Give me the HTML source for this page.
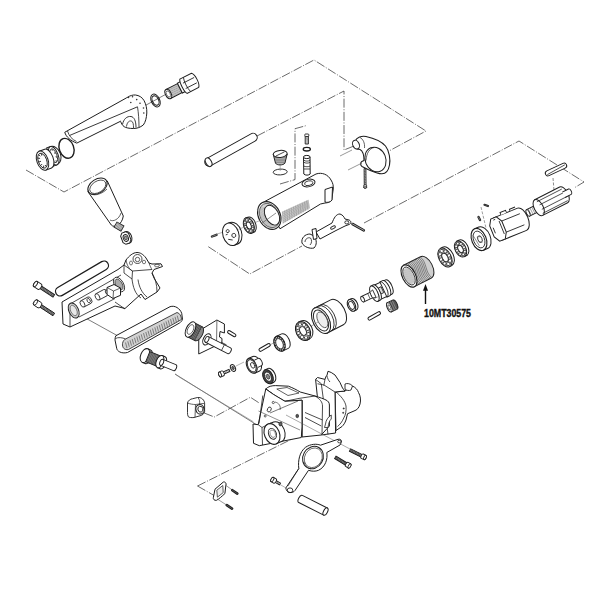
<!DOCTYPE html>
<html><head><meta charset="utf-8"><style>
html,body{margin:0;padding:0;background:#fff;width:600px;height:600px;overflow:hidden}
svg{display:block}
</style></head><body><svg width="600" height="600" viewBox="0 0 600 600"><path d="M26,170 L64,192 L314,60 L426,131 L389,151" fill="none" stroke="#3a3a3a" stroke-width="0.75" stroke-dasharray="9 1.6 1 1.6"/><path d="M257,136 L344,91 L344,150 L354,146" fill="none" stroke="#3a3a3a" stroke-width="0.75" stroke-dasharray="9 1.6 1 1.6"/><path d="M280,184 L295,179.6 L295,128.7 L307,125.4" fill="none" stroke="#3a3a3a" stroke-width="0.75" stroke-dasharray="9 1.6 1 1.6"/><path d="M208.3,246.7 L249.75,274 L302,246" fill="none" stroke="#3a3a3a" stroke-width="0.75" stroke-dasharray="9 1.6 1 1.6"/><path d="M364,223 L519,141 L584,182 L574,188" fill="none" stroke="#3a3a3a" stroke-width="0.75" stroke-dasharray="9 1.6 1 1.6"/><path d="M197.5,486 L300,435" fill="none" stroke="#3a3a3a" stroke-width="0.75" stroke-dasharray="9 1.6 1 1.6"/><path d="M197.5,486 L215,496" fill="none" stroke="#3a3a3a" stroke-width="0.75" stroke-dasharray="9 1.6 1 1.6"/><path d="M204.3,413 L214.25,417 L250.4,397.25 L259.2,403" fill="none" stroke="#3a3a3a" stroke-width="0.75" stroke-dasharray="9 1.6 1 1.6"/><path d="M137,110 L170,92" fill="none" stroke="#444" stroke-width="0.7"/><path d="M175,374 L257,425" fill="none" stroke="#444" stroke-width="0.7"/><path d="M80,315 L118,336" fill="none" stroke="#444" stroke-width="0.7"/><g transform="translate(53.7,155.7) rotate(-20)"><path d="M-4,-9.7 L0,-9.7 A7,9.7 0 0 1 0,9.7 L-4,9.7 Z" fill="#fff" stroke="#1e1e1e" stroke-width="1"/><ellipse rx="4.5" ry="9.7" fill="#fff" stroke="#1e1e1e" stroke-width="1"/><ellipse rx="3.2" ry="7.2" fill="none" stroke="#1e1e1e" stroke-width="0.8"/><path d="M0,-6 l1,0 M1.5,-2 l1,0 M1.5,2 l1,0 M0,6 l1,0" stroke="#333" stroke-width="1.6"/></g><g transform="translate(42.5,160.7) rotate(-20)"><path d="M0,-10 L6,-10 A5,10 0 0 1 6,10 L0,10 Z" fill="#fff" stroke="#1e1e1e" stroke-width="1"/><ellipse rx="5.6" ry="10" fill="#fff" stroke="#1e1e1e" stroke-width="1"/><ellipse rx="4.2" ry="7.8" fill="none" stroke="#1e1e1e" stroke-width="0.9"/><path d="M-3.5,-4 l2,1 M-3.8,0 l2.2,0 M-3.5,4 l2,-1 M-1.5,-7 l1,2 M-1.5,7 l1,-2 M1.5,-7 l-0.5,2 M1.5,7 l-0.5,-2" stroke="#333" stroke-width="0.9"/></g><ellipse cx="66.5" cy="148.3" rx="7.2" ry="10.2" transform="rotate(-20 66.5 148.3)" fill="none" stroke="#1e1e1e" stroke-width="1.4"/><path d="M64.75,132.25 L127,97.6 L121,121 L76.8,143.1 C71,141 66,137 64.75,132.25 Z" fill="#fff"/><path d="M121,121 L76.8,143.1 C71,141 66,137 64.75,132.25 L127,97.6" fill="none" stroke="#1e1e1e" stroke-width="1.0" stroke-linejoin="round" /><path d="M67.5,131 C69,136 72,139.5 76.5,141.5" fill="none" stroke="#1e1e1e" stroke-width="0.8" stroke-linejoin="round" /><path d="M127,97.6 C130,95.5 133,94.8 135.5,95 C139,95.5 142,97 144,100.5 C146,104 147,108.5 146.8,113 C146.5,118 145.5,122 143.3,125 C140,127.5 137,128.5 133.3,128.5 C129,128.5 126,127.8 124.2,126.7 C122.5,125.5 121.2,123.5 120.8,121.7 L121,121 Z" fill="#fff"/><path d="M127,97.6 C130,95.5 133,94.8 135.5,95 C139,95.5 142,97 144,100.5 C146,104 147,108.5 146.8,113 C146.5,118 145.5,122 143.3,125 C140,127.5 137,128.5 133.3,128.5 C129,128.5 126,127.8 124.2,126.7 C122.5,125.5 121.2,123.5 120.8,121.7" fill="none" stroke="#1e1e1e" stroke-width="1.0" stroke-linejoin="round" /><path d="M69.5,135.5 L137.5,106.8" fill="none" stroke="#222" stroke-width="0.9"/><path d="M137.5,106.8 C138.5,113 139,120 139,127.5" fill="none" stroke="#1e1e1e" stroke-width="0.8" stroke-linejoin="round" /><path d="M122.5,124.5 C123.5,119 127,116 131,116.5 C134,117 136,120.5 136,127.5" fill="none" stroke="#1e1e1e" stroke-width="0.9" stroke-linejoin="round" /><path d="M126.5,126.5 C127,122.5 129,120.5 131.2,121 C133,121.5 133.6,124 133.5,128.2" fill="none" stroke="#1e1e1e" stroke-width="0.8" stroke-linejoin="round" /><circle cx="128.5" cy="97.5" r="0.8" fill="#333"/><circle cx="132.5" cy="96.7" r="0.8" fill="#333"/><circle cx="136.7" cy="99.6" r="0.8" fill="#333"/><circle cx="130.8" cy="102.5" r="0.8" fill="#333"/><circle cx="140" cy="103.3" r="0.8" fill="#333"/><circle cx="143.5" cy="108" r="0.8" fill="#333"/><circle cx="143.8" cy="113" r="0.8" fill="#333"/><g transform="translate(155.5,100.5) rotate(-25)"><ellipse rx="4.22" ry="6.8" fill="none" stroke="#1e1e1e" stroke-width="1.0"/><ellipse rx="3.1" ry="5" fill="none" stroke="#1e1e1e" stroke-width="1.0"/></g><g transform="translate(168.3,94) rotate(-27)"><path d="M0,-5 L13,-5 L13,5 L0,5 Z" fill="#fff" stroke="#1e1e1e" stroke-width="1"/><line x1="3.0" y1="-4.6" x2="3.5" y2="4.6" stroke="#666" stroke-width="0.55"/><line x1="4.1" y1="-4.6" x2="4.6" y2="4.6" stroke="#666" stroke-width="0.55"/><line x1="5.2" y1="-4.6" x2="5.7" y2="4.6" stroke="#666" stroke-width="0.55"/><line x1="6.3" y1="-4.6" x2="6.8" y2="4.6" stroke="#666" stroke-width="0.55"/><line x1="7.4" y1="-4.6" x2="7.9" y2="4.6" stroke="#666" stroke-width="0.55"/><line x1="8.5" y1="-4.6" x2="9.0" y2="4.6" stroke="#666" stroke-width="0.55"/><line x1="9.6" y1="-4.6" x2="10.1" y2="4.6" stroke="#666" stroke-width="0.55"/><line x1="10.7" y1="-4.6" x2="11.2" y2="4.6" stroke="#666" stroke-width="0.55"/><line x1="11.8" y1="-4.6" x2="12.3" y2="4.6" stroke="#666" stroke-width="0.55"/><ellipse rx="2.8" ry="5" fill="#fff" stroke="#1e1e1e" stroke-width="1"/><ellipse rx="1.8" ry="3.4" fill="none" stroke="#444" stroke-width="0.7"/><path d="M13,-5.5 L18,-5.5 L18,5.5 L13,5.5 Z" fill="#fff" stroke="#1e1e1e" stroke-width="1"/><path d="M17,-8 L30,-8 C33,-5.5 33,5.5 30,8 L17,8 C15,5.5 15,-5.5 17,-8 Z" fill="#fff" stroke="#1e1e1e" stroke-width="1"/><path d="M18,-3 L30.5,-3 M18,3 L30.5,3 M21,-8 C19.5,-4 19.5,4 21,8" fill="none" stroke="#1e1e1e" stroke-width="0.8"/></g><line x1="209" y1="162" x2="253" y2="137.5" stroke="#1e1e1e" stroke-width="9.4" stroke-linecap="round"/><line x1="209" y1="162" x2="253" y2="137.5" stroke="#fff" stroke-width="7.4" stroke-linecap="round"/><ellipse cx="208.6" cy="162.2" rx="2.8" ry="4.7" transform="rotate(-29 208.6 162.2)" fill="#fff" stroke="#1e1e1e" stroke-width="1.0"/><path d="M273.2,154 L275.5,163.2 C277,165.5 283,165.5 284.9,163.2 L287.2,154 Z" fill="#bbb" stroke="#1e1e1e" stroke-width="1.0" stroke-linejoin="round" /><line x1="274.2" y1="156.0" x2="286.2" y2="156.0" stroke="#555" stroke-width="0.5"/><line x1="274.6" y1="157.6" x2="285.8" y2="157.6" stroke="#555" stroke-width="0.5"/><line x1="275.0" y1="159.2" x2="285.4" y2="159.2" stroke="#555" stroke-width="0.5"/><line x1="275.4" y1="160.8" x2="285.0" y2="160.8" stroke="#555" stroke-width="0.5"/><line x1="275.8" y1="162.4" x2="284.6" y2="162.4" stroke="#555" stroke-width="0.5"/><ellipse cx="280.2" cy="153.9" rx="7" ry="3.5" transform="rotate(-5 280.2 153.9)" fill="#fff" stroke="#1e1e1e" stroke-width="1.0"/><path d="M276,156 L284.5,151.8" fill="none" stroke="#333" stroke-width="0.9"/><ellipse cx="280.2" cy="172" rx="7" ry="2.9" transform="rotate(-3 280.2 172)" fill="none" stroke="#1e1e1e" stroke-width="0.9"/><path d="M280.2,165 L280.2,171" fill="none" stroke="#777" stroke-width="0.5"/><g transform="translate(306.8,134) rotate(90)"><path d="M2,-1.6 L10,-1.6 L10,1.6 L2,1.6 Z" fill="#fff" stroke="#1e1e1e" stroke-width="0.9"/><line x1="3.0" y1="-1.6" x2="3.5" y2="1.6" stroke="#444" stroke-width="0.5"/><line x1="4.2" y1="-1.6" x2="4.7" y2="1.6" stroke="#444" stroke-width="0.5"/><line x1="5.4" y1="-1.6" x2="5.9" y2="1.6" stroke="#444" stroke-width="0.5"/><line x1="6.6" y1="-1.6" x2="7.1" y2="1.6" stroke="#444" stroke-width="0.5"/><line x1="7.8" y1="-1.6" x2="8.3" y2="1.6" stroke="#444" stroke-width="0.5"/><line x1="9.0" y1="-1.6" x2="9.5" y2="1.6" stroke="#444" stroke-width="0.5"/><rect x="0" y="-2" width="2.5" height="4" rx="0.8" fill="#fff" stroke="#1e1e1e" stroke-width="0.9"/></g><ellipse cx="306.8" cy="149.2" rx="3.6" ry="1.8" transform="rotate(0 306.8 149.2)" fill="none" stroke="#1e1e1e" stroke-width="1.3"/><path d="M303.5,157 L303.8,174 C305,175.5 309,175.5 310.2,174 L310,157 Z" fill="#fff" stroke="#1e1e1e" stroke-width="1.0" stroke-linejoin="round" /><ellipse cx="306.8" cy="157" rx="3.3" ry="1.6" transform="rotate(0 306.8 157)" fill="#fff" stroke="#1e1e1e" stroke-width="1.0"/><path d="M303.6,160 C305,161.5 309,161.5 310.1,160 M303.6,162 C305,163.5 309,163.5 310.1,162 M303.7,166 C305,167 309,167 310.1,166 M304,169 L310,169" fill="none" stroke="#1e1e1e" stroke-width="0.8" stroke-linejoin="round" /><path d="M355,141 C357,137.5 361.5,135.5 366,136.5 C373,138 381,141 385.5,146 C389.5,151 390.5,160 389.5,165 C388.5,170.5 385.5,174 381.5,173.8 C377,173.5 372,171 368,169.5 L362,166.5 C360.3,165.5 360.3,162.5 361.8,161.5 L364,160.5 C364,155 363,151 360,149.5 C356,149.5 353.5,146 355,141 Z" fill="#fff" stroke="#1e1e1e" stroke-width="1.1" stroke-linejoin="round" /><ellipse cx="375.5" cy="159.5" rx="10.3" ry="12.6" transform="rotate(-22 375.5 159.5)" fill="#fff" stroke="#1e1e1e" stroke-width="1.0"/><path d="M366,160.5 C366.5,153 369.5,148.5 374,147.5" fill="none" stroke="#1e1e1e" stroke-width="0.7" stroke-linejoin="round" /><path d="M360,137.5 C363,139 365,143 364.5,148" fill="none" stroke="#1e1e1e" stroke-width="0.7" stroke-linejoin="round" /><ellipse cx="356" cy="144.6" rx="3.2" ry="4.6" transform="rotate(-25 356 144.6)" fill="#fff" stroke="#1e1e1e" stroke-width="1"/><path d="M352,150 L340,156" fill="none" stroke="#555" stroke-width="0.6"/><path d="M362,163 L348,170" fill="none" stroke="#555" stroke-width="0.6"/><g transform="translate(365.2,187.5) rotate(-90.6)"><path d="M2,-0.9 L19,-0.9 L19,0.9 L2,0.9 Z" fill="#fff" stroke="#1e1e1e" stroke-width="0.9"/><line x1="3" y1="-0.9" x2="3.6" y2="0.9" stroke="#1e1e1e" stroke-width="0.5"/><line x1="4.6" y1="-0.9" x2="5.2" y2="0.9" stroke="#1e1e1e" stroke-width="0.5"/><line x1="6.2" y1="-0.9" x2="6.8" y2="0.9" stroke="#1e1e1e" stroke-width="0.5"/><line x1="7.8" y1="-0.9" x2="8.4" y2="0.9" stroke="#1e1e1e" stroke-width="0.5"/><line x1="9.4" y1="-0.9" x2="10" y2="0.9" stroke="#1e1e1e" stroke-width="0.5"/><line x1="11" y1="-0.9" x2="11.6" y2="0.9" stroke="#1e1e1e" stroke-width="0.5"/><line x1="12.6" y1="-0.9" x2="13.2" y2="0.9" stroke="#1e1e1e" stroke-width="0.5"/><line x1="14.2" y1="-0.9" x2="14.8" y2="0.9" stroke="#1e1e1e" stroke-width="0.5"/><line x1="15.8" y1="-0.9" x2="16.4" y2="0.9" stroke="#1e1e1e" stroke-width="0.5"/><line x1="17.4" y1="-0.9" x2="18" y2="0.9" stroke="#1e1e1e" stroke-width="0.5"/><path d="M0,-1.4 L2,-1.4 A0.7,1.4 0 0 1 2,1.4 L0,1.4 A0.7,1.4 0 0 1 0,-1.4 Z" fill="#fff" stroke="#1e1e1e" stroke-width="0.9"/><ellipse rx="0.7" ry="1.4" fill="#fff" stroke="#1e1e1e" stroke-width="0.9"/></g><path d="M264.25,201.75 L316,174 C322,172 328,174.5 331,180 C333,183 333.5,186 333.25,189 L331.75,199.5 C331,201.5 328,203 325,203 L320.5,204 L280,228.75 Z" fill="#fff" stroke="#1e1e1e" stroke-width="1.0" stroke-linejoin="round" /><g transform="translate(0,0) rotate(0)"><path d="M282.25,211.5 L308.5,199.5 L310,208.5 L283,223.5 Z" fill="#d6d6d6" stroke="none"/><line x1="282.4" y1="211.5" x2="283.1" y2="223.5" stroke="#888" stroke-width="0.45"/><line x1="284.6" y1="210.5" x2="285.4" y2="222.2" stroke="#888" stroke-width="0.45"/><line x1="286.8" y1="209.5" x2="287.6" y2="221.0" stroke="#888" stroke-width="0.45"/><line x1="289.0" y1="208.5" x2="289.9" y2="219.8" stroke="#888" stroke-width="0.45"/><line x1="291.2" y1="207.5" x2="292.1" y2="218.5" stroke="#888" stroke-width="0.45"/><line x1="293.4" y1="206.5" x2="294.4" y2="217.2" stroke="#888" stroke-width="0.45"/><line x1="295.6" y1="205.5" x2="296.6" y2="216.0" stroke="#888" stroke-width="0.45"/><line x1="297.8" y1="204.5" x2="298.9" y2="214.8" stroke="#888" stroke-width="0.45"/><line x1="300.0" y1="203.5" x2="301.1" y2="213.5" stroke="#888" stroke-width="0.45"/><line x1="302.2" y1="202.5" x2="303.4" y2="212.2" stroke="#888" stroke-width="0.45"/><line x1="304.4" y1="201.5" x2="305.6" y2="211.0" stroke="#888" stroke-width="0.45"/><line x1="306.6" y1="200.5" x2="307.9" y2="209.8" stroke="#888" stroke-width="0.45"/><line x1="282.4" y1="212.5" x2="308.6" y2="200.5" stroke="#888" stroke-width="0.45"/><line x1="282.5" y1="214.2" x2="308.8" y2="201.6" stroke="#888" stroke-width="0.45"/><line x1="282.6" y1="215.9" x2="309.0" y2="202.7" stroke="#888" stroke-width="0.45"/><line x1="282.6" y1="217.6" x2="309.2" y2="203.8" stroke="#888" stroke-width="0.45"/><line x1="282.7" y1="219.3" x2="309.4" y2="204.9" stroke="#888" stroke-width="0.45"/><line x1="282.8" y1="221.0" x2="309.6" y2="206.0" stroke="#888" stroke-width="0.45"/><line x1="282.9" y1="222.7" x2="309.8" y2="207.1" stroke="#888" stroke-width="0.45"/></g><ellipse cx="269.3" cy="215.5" rx="10.8" ry="14.6" transform="rotate(-28 269.3 215.5)" fill="#fff" stroke="#1e1e1e" stroke-width="1.1"/><ellipse cx="269.5" cy="215.5" rx="9.3" ry="12.9" transform="rotate(-28 269.5 215.5)" fill="#d4d4d4" stroke="#1e1e1e" stroke-width="0.6"/><g transform="translate(269.5,215.5) rotate(-28)"><line x1="-8.0" y1="-11" x2="-8.0" y2="11" stroke="#999" stroke-width="0.4"/><line x1="-6.8" y1="-11" x2="-6.8" y2="11" stroke="#999" stroke-width="0.4"/><line x1="-5.6" y1="-11" x2="-5.6" y2="11" stroke="#999" stroke-width="0.4"/><line x1="-4.4" y1="-11" x2="-4.4" y2="11" stroke="#999" stroke-width="0.4"/><line x1="-3.2" y1="-11" x2="-3.2" y2="11" stroke="#999" stroke-width="0.4"/><line x1="-2.0" y1="-11" x2="-2.0" y2="11" stroke="#999" stroke-width="0.4"/></g><ellipse cx="272" cy="215.2" rx="6.6" ry="10.6" transform="rotate(-28 272 215.2)" fill="#fff" stroke="#1e1e1e" stroke-width="0.9"/><path d="M261.5,223.5 L276,213" fill="none" stroke="#444" stroke-width="0.6"/><ellipse cx="308.5" cy="183" rx="6.6" ry="3.7" transform="rotate(-12 308.5 183)" fill="#fff" stroke="#1e1e1e" stroke-width="1.0"/><ellipse cx="308.7" cy="183.2" rx="4.2" ry="2.3" transform="rotate(-12 308.7 183.2)" fill="none" stroke="#1e1e1e" stroke-width="0.8"/><path d="M325,189.5 L332.5,187 L332,200 C331,202 327,203 325,202 Z" fill="#fff" stroke="#1e1e1e" stroke-width="1.0" stroke-linejoin="round" /><g transform="translate(230.8,234.3) rotate(-18)"><path d="M0,-11.5 L3,-11.5 A8,11.5 0 0 1 3,11.5 L0,11.5 Z" fill="#fff" stroke="#1e1e1e" stroke-width="1"/><ellipse rx="8" ry="11.5" fill="#fff" stroke="#1e1e1e" stroke-width="1"/><circle cx="-2" cy="-4" r="1.5" fill="none" stroke="#1e1e1e" stroke-width="0.8"/><circle cx="2.5" cy="2" r="2" fill="none" stroke="#1e1e1e" stroke-width="0.8"/><path d="M-4,4 L0,6 M-5,-1 l2,0" stroke="#1e1e1e" stroke-width="0.8"/></g><g transform="translate(248.8,225.5) rotate(-20)"><path d="M2,-8.2 A5.08,8.2 0 0 1 2,8.2 L0,8.2 L0,-8.2 Z" fill="#fff" stroke="#1e1e1e" stroke-width="1.0"/><ellipse rx="5.08" ry="8.2" fill="#fff" stroke="#1e1e1e" stroke-width="1.0"/><ellipse rx="4.47" ry="7.22" fill="#d8d8d8" stroke="#1e1e1e" stroke-width="0.6"/><ellipse rx="2.29" ry="3.69" fill="#fff" stroke="#1e1e1e" stroke-width="1.0"/><circle cx="3.66" cy="0" r="1.31" fill="#fff" stroke="#1e1e1e" stroke-width="0.7"/><circle cx="2.59" cy="4.17" r="1.31" fill="#fff" stroke="#1e1e1e" stroke-width="0.7"/><circle cx="0" cy="5.9" r="1.31" fill="#fff" stroke="#1e1e1e" stroke-width="0.7"/><circle cx="-2.59" cy="4.17" r="1.31" fill="#fff" stroke="#1e1e1e" stroke-width="0.7"/><circle cx="-3.66" cy="0" r="1.31" fill="#fff" stroke="#1e1e1e" stroke-width="0.7"/><circle cx="-2.59" cy="-4.17" r="1.31" fill="#fff" stroke="#1e1e1e" stroke-width="0.7"/><circle cx="-0" cy="-5.9" r="1.31" fill="#fff" stroke="#1e1e1e" stroke-width="0.7"/><circle cx="2.59" cy="-4.17" r="1.31" fill="#fff" stroke="#1e1e1e" stroke-width="0.7"/></g><line x1="212" y1="236.5" x2="216.5" y2="234.8" stroke="#1e1e1e" stroke-width="2.4" stroke-linecap="round"/><line x1="212" y1="236.5" x2="216.5" y2="234.8" stroke="#fff" stroke-width="0.4" stroke-linecap="round"/><path d="M217,234 L222,232.5" fill="none" stroke="#666" stroke-width="0.5"/><path d="M238.5,229.5 L243,227.5" fill="none" stroke="#666" stroke-width="0.5"/><path d="M254,223 L260,220.5" fill="none" stroke="#666" stroke-width="0.5"/><path d="M302,243 C301,238 305,234 310,234 L314,236 C317,240 317,245 314,248 C310,249 304,247 302,243 Z" fill="#fff" stroke="#1e1e1e" stroke-width="1.0" stroke-linejoin="round" /><path d="M305,242 C305,239 308,237 310.5,238 C312,240 312,243 310,245" fill="none" stroke="#1e1e1e" stroke-width="0.8" stroke-linejoin="round" /><path d="M316,232 L332,223 C334,218 336,214 340,214 C343,215 344,217 345,219 L349,220 C351.5,221 351.5,223.5 349,224.5 L345,226 L336,230.5 L320,239 Z" fill="#fff" stroke="#1e1e1e" stroke-width="1.0" stroke-linejoin="round" /><ellipse cx="333" cy="227.5" rx="2.6" ry="1.3" transform="rotate(-25 333 227.5)" fill="none" stroke="#1e1e1e" stroke-width="0.9"/><ellipse cx="346.8" cy="222.4" rx="2" ry="1.6" transform="rotate(0 346.8 222.4)" fill="none" stroke="#1e1e1e" stroke-width="0.9"/><path d="M312,229.5 L316,228.5 L317,238.5 L313.5,239.5 Z" fill="#fff" stroke="#1e1e1e" stroke-width="1.0" stroke-linejoin="round" /><line x1="352.5" y1="224" x2="363.8" y2="230.3" stroke="#1e1e1e" stroke-width="2.6" stroke-linecap="round"/><line x1="352.5" y1="224" x2="363.8" y2="230.3" stroke="#fff" stroke-width="0.6" stroke-linecap="round"/><g transform="translate(556,169.5) rotate(-25)"><rect x="-11.5" y="-2.6" width="23" height="5.2" rx="2.6" fill="#fff" stroke="#1e1e1e" stroke-width="1"/><path d="M-10,1 L10,-0.5" stroke="#1e1e1e" stroke-width="0.7"/></g><path d="M553,178 L554,190" fill="none" stroke="#3a3a3a" stroke-width="0.6" stroke-dasharray="3 1.5"/><g transform="translate(528,213) rotate(-27)"><path d="M0,-3.6 L12,-3.6 L12,3.6 L0,3.6 Z" fill="#fff" stroke="#1e1e1e" stroke-width="0.9"/><path d="M2,-3.6 L2,3.6 M4,-3.6 L4,3.6 M6,-3.6 L6,3.6 M8,-3.6 L8,3.6" stroke="#555" stroke-width="0.5"/><ellipse cx="0" cy="0" rx="1.5" ry="3.6" fill="#fff" stroke="#1e1e1e" stroke-width="0.9"/><path d="M12,-8.8 L40,-8.8 A4.5,8.8 0 0 1 40,8.8 L12,8.8 Z" fill="#fff" stroke="#1e1e1e" stroke-width="1"/><ellipse cx="12" cy="0" rx="4.5" ry="8.8" fill="#fff" stroke="#1e1e1e" stroke-width="1"/><path d="M13,-6 L41,-6 M14,-2 L43,-2 M14,3 L43,3 M13,7 L41,7" stroke="#1e1e1e" stroke-width="0.7"/><path d="M40,-3 L47,-3 A1.5,3 0 0 1 47,3 L40,3" fill="#fff" stroke="#1e1e1e" stroke-width="0.9"/></g><g transform="translate(498,229) rotate(-22)"><path d="M0,-12 L26,-12 A6,12 0 0 1 26,12 L0,12 Z" fill="#fff" stroke="#1e1e1e" stroke-width="1"/><path d="M-6.5,-6 L-3,-12 L3,-12 L6.5,-6 L6.5,6 L3,12 L-3,12 L-6.5,6 Z" fill="#fff" stroke="#1e1e1e" stroke-width="1"/><path d="M-4,-3 L-4,3 M4,-7 L4,7 M-1,-10 L1,-10 M6.5,-6 L26,-6 M6.5,6 L26,6" stroke="#1e1e1e" stroke-width="0.8"/><path d="M8,-12 L8,-14.5 L14,-14.5 L14,-12 M18,-12 L18,-14 L24,-14" fill="#fff" stroke="#1e1e1e" stroke-width="0.9"/></g><line x1="484.5" y1="204.8" x2="488" y2="206" stroke="#1e1e1e" stroke-width="2.2" stroke-linecap="round"/><line x1="484.5" y1="204.8" x2="488" y2="206" stroke="#fff" stroke-width="0.2" stroke-linecap="round"/><line x1="478.5" y1="217" x2="480" y2="220" stroke="#1e1e1e" stroke-width="2.4" stroke-linecap="round"/><line x1="478.5" y1="217" x2="480" y2="220" stroke="#fff" stroke-width="0.4" stroke-linecap="round"/><path d="M481,207 L486,228" fill="none" stroke="#3a3a3a" stroke-width="0.5" stroke-dasharray="3 1.5"/><g transform="translate(479,239.5) rotate(-22)"><path d="M0,-11.6 L4.5,-11.6 A7.2,11.6 0 0 1 4.5,11.6 L0,11.6 Z" fill="#fff" stroke="#1e1e1e" stroke-width="1"/><ellipse rx="7.2" ry="11.6" fill="#fff" stroke="#1e1e1e" stroke-width="1.1"/><ellipse rx="5.4" ry="8.8" fill="#fff" stroke="#1e1e1e" stroke-width="0.8"/><ellipse cx="1" rx="2.1" ry="3.5" fill="#fff" stroke="#1e1e1e" stroke-width="0.8"/><path d="M-1,-3 L3,-2 M-1,2 L2,4 M-4,-6 L-2,6" stroke="#555" stroke-width="0.6"/></g><g transform="translate(460.5,249) rotate(-27)"><path d="M2.5,-8.6 A5.33,8.6 0 0 1 2.5,8.6 L0,8.6 L0,-8.6 Z" fill="#fff" stroke="#1e1e1e" stroke-width="1.0"/><ellipse rx="5.33" ry="8.6" fill="#fff" stroke="#1e1e1e" stroke-width="1.0"/><ellipse rx="4.69" ry="7.57" fill="#d8d8d8" stroke="#1e1e1e" stroke-width="0.6"/><ellipse rx="2.4" ry="3.87" fill="#fff" stroke="#1e1e1e" stroke-width="1.0"/><circle cx="3.84" cy="0" r="1.38" fill="#fff" stroke="#1e1e1e" stroke-width="0.7"/><circle cx="2.71" cy="4.38" r="1.38" fill="#fff" stroke="#1e1e1e" stroke-width="0.7"/><circle cx="0" cy="6.19" r="1.38" fill="#fff" stroke="#1e1e1e" stroke-width="0.7"/><circle cx="-2.71" cy="4.38" r="1.38" fill="#fff" stroke="#1e1e1e" stroke-width="0.7"/><circle cx="-3.84" cy="0" r="1.38" fill="#fff" stroke="#1e1e1e" stroke-width="0.7"/><circle cx="-2.71" cy="-4.38" r="1.38" fill="#fff" stroke="#1e1e1e" stroke-width="0.7"/><circle cx="-0" cy="-6.19" r="1.38" fill="#fff" stroke="#1e1e1e" stroke-width="0.7"/><circle cx="2.71" cy="-4.38" r="1.38" fill="#fff" stroke="#1e1e1e" stroke-width="0.7"/></g><g transform="translate(445,257.5) rotate(-27)"><path d="M2.5,-10.2 A6.12,10.2 0 0 1 2.5,10.2 L0,10.2 L0,-10.2 Z" fill="#fff" stroke="#1e1e1e" stroke-width="1.0"/><ellipse rx="6.12" ry="10.2" fill="#fff" stroke="#1e1e1e" stroke-width="1.0"/><ellipse rx="5.39" ry="8.98" fill="#d8d8d8" stroke="#1e1e1e" stroke-width="0.6"/><ellipse rx="2.75" ry="4.59" fill="#fff" stroke="#1e1e1e" stroke-width="1.0"/><circle cx="4.41" cy="0" r="1.63" fill="#fff" stroke="#1e1e1e" stroke-width="0.7"/><circle cx="3.12" cy="5.19" r="1.63" fill="#fff" stroke="#1e1e1e" stroke-width="0.7"/><circle cx="0" cy="7.34" r="1.63" fill="#fff" stroke="#1e1e1e" stroke-width="0.7"/><circle cx="-3.12" cy="5.19" r="1.63" fill="#fff" stroke="#1e1e1e" stroke-width="0.7"/><circle cx="-4.41" cy="0" r="1.63" fill="#fff" stroke="#1e1e1e" stroke-width="0.7"/><circle cx="-3.12" cy="-5.19" r="1.63" fill="#fff" stroke="#1e1e1e" stroke-width="0.7"/><circle cx="-0" cy="-7.34" r="1.63" fill="#fff" stroke="#1e1e1e" stroke-width="0.7"/><circle cx="3.12" cy="-5.19" r="1.63" fill="#fff" stroke="#1e1e1e" stroke-width="0.7"/></g><g transform="translate(409,276) rotate(-27)"><path d="M0,-12 L19,-12 A6.6,12 0 0 1 19,12 L0,12 Z" fill="#cfcfcf" stroke="#1e1e1e" stroke-width="1"/><path d="M1.0,-12 C5.0,-4 -2.0,4 2.0,12" fill="none" stroke="#555" stroke-width="0.6"/><path d="M2.6,-12 C6.6,-4 -0.4,4 3.6,12" fill="none" stroke="#555" stroke-width="0.6"/><path d="M4.2,-12 C8.2,-4 1.2,4 5.2,12" fill="none" stroke="#555" stroke-width="0.6"/><path d="M5.8,-12 C9.8,-4 2.8,4 6.8,12" fill="none" stroke="#555" stroke-width="0.6"/><path d="M7.4,-12 C11.4,-4 4.4,4 8.4,12" fill="none" stroke="#555" stroke-width="0.6"/><path d="M9.0,-12 C13.0,-4 6.0,4 10.0,12" fill="none" stroke="#555" stroke-width="0.6"/><path d="M10.6,-12 C14.6,-4 7.6,4 11.6,12" fill="none" stroke="#555" stroke-width="0.6"/><path d="M12.2,-12 C16.2,-4 9.2,4 13.2,12" fill="none" stroke="#555" stroke-width="0.6"/><path d="M13.8,-12 C17.8,-4 10.8,4 14.8,12" fill="none" stroke="#555" stroke-width="0.6"/><path d="M15.4,-12 C19.4,-4 12.4,4 16.4,12" fill="none" stroke="#555" stroke-width="0.6"/><path d="M17.0,-12 C21.0,-4 14.0,4 18.0,12" fill="none" stroke="#555" stroke-width="0.6"/><path d="M18.6,-12 C22.6,-4 15.6,4 19.6,12" fill="none" stroke="#555" stroke-width="0.6"/><ellipse rx="6.6" ry="12" fill="#fff" stroke="#1e1e1e" stroke-width="1.1"/><ellipse rx="5" ry="9.8" fill="#e0e0e0" stroke="#1e1e1e" stroke-width="0.8"/><line x1="-4.5" y1="-8" x2="-4.5" y2="8" stroke="#999" stroke-width="0.4"/><line x1="-3.5" y1="-8" x2="-3.5" y2="8" stroke="#999" stroke-width="0.4"/><line x1="-2.5" y1="-8" x2="-2.5" y2="8" stroke="#999" stroke-width="0.4"/><line x1="-1.5" y1="-8" x2="-1.5" y2="8" stroke="#999" stroke-width="0.4"/><line x1="-0.5" y1="-8" x2="-0.5" y2="8" stroke="#999" stroke-width="0.4"/><line x1="0.5" y1="-8" x2="0.5" y2="8" stroke="#999" stroke-width="0.4"/><line x1="1.5" y1="-8" x2="1.5" y2="8" stroke="#999" stroke-width="0.4"/><line x1="2.5" y1="-8" x2="2.5" y2="8" stroke="#999" stroke-width="0.4"/><line x1="3.5" y1="-8" x2="3.5" y2="8" stroke="#999" stroke-width="0.4"/></g><path d="M425.5,304 L425.5,288" stroke="#111" stroke-width="1.4"/><path d="M423,290.8 L425.5,284 L428,290.8 Z" fill="#111"/><text x="424" y="316.5" style="font-family:&quot;Liberation Sans&quot;,sans-serif;font-weight:bold;font-size:10.3px" fill="#111" stroke="#111" stroke-width="0.35" textLength="47" lengthAdjust="spacingAndGlyphs">10MT30575</text><g transform="translate(362.6,299.2) rotate(-25)"><path d="M0,-3 L12,-3 L12,3 L0,3 Z" fill="#fff" stroke="#1e1e1e" stroke-width="0.9"/><ellipse rx="1.6" ry="3" fill="#fff" stroke="#1e1e1e" stroke-width="0.9"/><path d="M7,-3 L7,3" stroke="#1e1e1e" stroke-width="0.6"/><path d="M15,-7.8 L29,-7.8 A3.2,7.8 0 0 1 29,7.8 L15,7.8 Z" fill="#fff" stroke="#1e1e1e" stroke-width="1"/><path d="M23,-8.4 L26,-8.4 A3.4,8.4 0 0 1 26,8.4 L23,8.4 Z" fill="#fff" stroke="#1e1e1e" stroke-width="0.9"/><path d="M23,-8.4 A3.4,8.4 0 0 1 23,8.4" fill="none" stroke="#1e1e1e" stroke-width="0.8"/><path d="M13,-8.4 L15.5,-8.4 A3.6,8.4 0 0 1 15.5,8.4 L13,8.4 Z" fill="#fff" stroke="#1e1e1e" stroke-width="1"/><ellipse cx="13" rx="3.6" ry="8.4" fill="#fff" stroke="#1e1e1e" stroke-width="1"/><path d="M10,-3.2 L13,-4.2 L13,4.2 L10,3.2" fill="#fff" stroke="#1e1e1e" stroke-width="0.8"/><path d="M19,-3.5 L22,-3.5 L22,3 L19,3 Z" fill="#ddd" stroke="#1e1e1e" stroke-width="0.8"/></g><g transform="translate(392.5,305.8) rotate(-25)"><path d="M-3.5,-5 L3,-5 A2,5 0 0 1 3,5 L-3.5,5 Z" fill="#555" stroke="#1e1e1e" stroke-width="0.9"/><ellipse cx="-3.5" rx="2.2" ry="5" fill="#ddd" stroke="#1e1e1e" stroke-width="0.9"/><ellipse cx="-3.5" rx="1.1" ry="2.5" fill="#fff" stroke="#1e1e1e" stroke-width="0.6"/><path d="M-2,-5 L-2,5 M0,-5 L0,5 M2,-5 L2,5" stroke="#aaa" stroke-width="0.5"/></g><line x1="369.5" y1="318.6" x2="379" y2="313.2" stroke="#1e1e1e" stroke-width="4" stroke-linecap="round"/><line x1="369.5" y1="318.6" x2="379" y2="313.2" stroke="#fff" stroke-width="2" stroke-linecap="round"/><path d="M373,299 L380,296" fill="none" stroke="#666" stroke-width="0.5"/><g transform="translate(351.5,305.4) rotate(-25)"><path d="M0,-6.2 L2.5,-6.2 A3.7,6.2 0 0 1 2.5,6.2 L0,6.2 Z" fill="#fff" stroke="#1e1e1e" stroke-width="1"/><ellipse rx="3.7" ry="6.2" fill="#fff" stroke="#1e1e1e" stroke-width="1.1"/><ellipse rx="2.4" ry="4.2" fill="#fff" stroke="#1e1e1e" stroke-width="0.9"/></g><g transform="translate(321,320.5) rotate(-27)"><path d="M0,-14 L18,-14 A8,14 0 0 1 18,14 L0,14 Z" fill="#fff" stroke="#1e1e1e" stroke-width="1"/><path d="M4,-14 A8,14 0 0 1 4,14 M6.5,-14 A8,14 0 0 1 6.5,14" fill="none" stroke="#1e1e1e" stroke-width="0.8"/><ellipse rx="8" ry="14" fill="#fff" stroke="#1e1e1e" stroke-width="1.1"/><ellipse rx="6.3" ry="11.3" fill="#fff" stroke="#1e1e1e" stroke-width="0.9"/><ellipse cx="1.5" rx="4.5" ry="8.5" fill="#eee" stroke="#333" stroke-width="0.7"/></g><path d="M305,330 L318,322" fill="none" stroke="#555" stroke-width="0.5"/><g transform="translate(303,331) rotate(-25)"><path d="M2.5,-10 A7,10 0 0 1 2.5,10 L0,10 L0,-10 Z" fill="#fff" stroke="#1e1e1e" stroke-width="1.0"/><ellipse rx="7" ry="10" fill="#fff" stroke="#1e1e1e" stroke-width="1.0"/><ellipse rx="6.16" ry="8.8" fill="#d8d8d8" stroke="#1e1e1e" stroke-width="0.6"/><ellipse rx="3.15" ry="4.5" fill="#fff" stroke="#1e1e1e" stroke-width="1.0"/><circle cx="5.04" cy="0" r="1.6" fill="#fff" stroke="#1e1e1e" stroke-width="0.7"/><circle cx="3.56" cy="5.09" r="1.6" fill="#fff" stroke="#1e1e1e" stroke-width="0.7"/><circle cx="0" cy="7.2" r="1.6" fill="#fff" stroke="#1e1e1e" stroke-width="0.7"/><circle cx="-3.56" cy="5.09" r="1.6" fill="#fff" stroke="#1e1e1e" stroke-width="0.7"/><circle cx="-5.04" cy="0" r="1.6" fill="#fff" stroke="#1e1e1e" stroke-width="0.7"/><circle cx="-3.56" cy="-5.09" r="1.6" fill="#fff" stroke="#1e1e1e" stroke-width="0.7"/><circle cx="-0" cy="-7.2" r="1.6" fill="#fff" stroke="#1e1e1e" stroke-width="0.7"/><circle cx="3.56" cy="-5.09" r="1.6" fill="#fff" stroke="#1e1e1e" stroke-width="0.7"/></g><g transform="translate(279.5,343.7) rotate(-25)"><path d="M0,-8 L6,-8 A4.5,8 0 0 1 6,8 L0,8 Z" fill="#fff" stroke="#1e1e1e" stroke-width="1"/><ellipse rx="5.2" ry="8" fill="#bdbdbd" stroke="#1e1e1e" stroke-width="1.1"/><line x1="3.60" y1="0.00" x2="5.20" y2="0.00" stroke="#1e1e1e" stroke-width="0.9"/><line x1="3.24" y1="2.43" x2="4.69" y2="3.51" stroke="#1e1e1e" stroke-width="0.9"/><line x1="2.24" y1="4.38" x2="3.24" y2="6.33" stroke="#1e1e1e" stroke-width="0.9"/><line x1="0.80" y1="5.46" x2="1.16" y2="7.90" stroke="#1e1e1e" stroke-width="0.9"/><line x1="-0.80" y1="5.46" x2="-1.16" y2="7.90" stroke="#1e1e1e" stroke-width="0.9"/><line x1="-2.24" y1="4.38" x2="-3.24" y2="6.33" stroke="#1e1e1e" stroke-width="0.9"/><line x1="-3.24" y1="2.43" x2="-4.69" y2="3.51" stroke="#1e1e1e" stroke-width="0.9"/><line x1="-3.60" y1="-0.00" x2="-5.20" y2="-0.00" stroke="#1e1e1e" stroke-width="0.9"/><line x1="-3.24" y1="-2.43" x2="-4.69" y2="-3.51" stroke="#1e1e1e" stroke-width="0.9"/><line x1="-2.24" y1="-4.38" x2="-3.24" y2="-6.33" stroke="#1e1e1e" stroke-width="0.9"/><line x1="-0.80" y1="-5.46" x2="-1.16" y2="-7.90" stroke="#1e1e1e" stroke-width="0.9"/><line x1="0.80" y1="-5.46" x2="1.16" y2="-7.90" stroke="#1e1e1e" stroke-width="0.9"/><line x1="2.24" y1="-4.38" x2="3.24" y2="-6.33" stroke="#1e1e1e" stroke-width="0.9"/><line x1="3.24" y1="-2.43" x2="4.69" y2="-3.51" stroke="#1e1e1e" stroke-width="0.9"/><ellipse rx="3.4" ry="5.4" fill="#fff" stroke="#1e1e1e" stroke-width="0.8"/></g><line x1="260.5" y1="349.8" x2="268.8" y2="345" stroke="#1e1e1e" stroke-width="4" stroke-linecap="round"/><line x1="260.5" y1="349.8" x2="268.8" y2="345" stroke="#fff" stroke-width="2" stroke-linecap="round"/><path d="M269,345.5 L276,341.5" fill="none" stroke="#666" stroke-width="0.5"/><g transform="translate(251.7,365.8) rotate(-25)"><path d="M0,-8 L5,-8 A4.5,8 0 0 1 5,8 L0,8 Z" fill="#fff" stroke="#1e1e1e" stroke-width="1"/><ellipse rx="4.8" ry="8" fill="#999" stroke="#1e1e1e" stroke-width="1"/><ellipse rx="3.8" ry="6.5" fill="#fff" stroke="#1e1e1e" stroke-width="0.8"/><path d="M5,-4 L9,-4 A2,4 0 0 1 9,4 L5,4" fill="#fff" stroke="#1e1e1e" stroke-width="0.9"/><ellipse cx="1" rx="1.8" ry="3" fill="#fff" stroke="#1e1e1e" stroke-width="0.8"/></g><g transform="translate(268,376.7) rotate(-25)"><path d="M0,-7.5 L3,-7.5 A4.5,7.5 0 0 1 3,7.5 L0,7.5 Z" fill="#fff" stroke="#1e1e1e" stroke-width="1"/><ellipse rx="4.8" ry="7.5" fill="#444" stroke="#1e1e1e" stroke-width="1"/><ellipse rx="3" ry="5" fill="#fff" stroke="#1e1e1e" stroke-width="0.8"/><ellipse rx="1.6" ry="2.6" fill="#888" stroke="#1e1e1e" stroke-width="0.6"/></g><g transform="translate(220,374.5) rotate(-22.83)"><path d="M3,-1.2 L10.31,-1.2 L10.31,1.2 L3,1.2 Z" fill="#fff" stroke="#1e1e1e" stroke-width="0.9"/><line x1="4" y1="-1.2" x2="4.6" y2="1.2" stroke="#1e1e1e" stroke-width="0.5"/><line x1="5.6" y1="-1.2" x2="6.2" y2="1.2" stroke="#1e1e1e" stroke-width="0.5"/><line x1="7.2" y1="-1.2" x2="7.8" y2="1.2" stroke="#1e1e1e" stroke-width="0.5"/><line x1="8.8" y1="-1.2" x2="9.4" y2="1.2" stroke="#1e1e1e" stroke-width="0.5"/><path d="M0,-2.6 L3,-2.6 A1.3,2.6 0 0 1 3,2.6 L0,2.6 A1.3,2.6 0 0 1 0,-2.6 Z" fill="#fff" stroke="#1e1e1e" stroke-width="0.9"/><ellipse rx="1.3" ry="2.6" fill="#fff" stroke="#1e1e1e" stroke-width="0.9"/></g><g transform="translate(233,368) rotate(-25)"><ellipse rx="2.3" ry="3.6" fill="#fff" stroke="#1e1e1e" stroke-width="1"/><ellipse rx="1.1" ry="1.8" fill="#666" stroke="#1e1e1e" stroke-width="0.6"/></g><path d="M236,366 L244,362" fill="none" stroke="#666" stroke-width="0.5"/><path d="M87.8,191.5 L111.3,225 C114.5,228.5 122,225 123.3,216 L107.3,181 Z" fill="#fff" stroke="#1e1e1e" stroke-width="1.0" stroke-linejoin="round" /><ellipse cx="97.5" cy="186.3" rx="10.6" ry="7" transform="rotate(-33 97.5 186.3)" fill="#fff" stroke="#1e1e1e" stroke-width="1.0"/><ellipse cx="97.8" cy="186.8" rx="8.9" ry="5.6" transform="rotate(-33 97.8 186.8)" fill="none" stroke="#1e1e1e" stroke-width="0.7"/><path d="M91,194 C95,196 102,194 107,189 M110,220 C113,222 119,219.5 121,213" fill="none" stroke="#1e1e1e" stroke-width="0.7" stroke-linejoin="round" /><g transform="translate(115.5,224.6) rotate(30)"><path d="M0,-3 L8,-3 L8,3 L0,3 Z" fill="#ddd" stroke="#1e1e1e" stroke-width="0.9"/><line x1="1.0" y1="-3" x2="1.6" y2="3" stroke="#555" stroke-width="0.5"/><line x1="2.3" y1="-3" x2="2.9" y2="3" stroke="#555" stroke-width="0.5"/><line x1="3.6" y1="-3" x2="4.2" y2="3" stroke="#555" stroke-width="0.5"/><line x1="4.9" y1="-3" x2="5.5" y2="3" stroke="#555" stroke-width="0.5"/><line x1="6.2" y1="-3" x2="6.8" y2="3" stroke="#555" stroke-width="0.5"/><line x1="7.5" y1="-3" x2="8.1" y2="3" stroke="#555" stroke-width="0.5"/></g><g transform="translate(125.8,238) rotate(-20)"><path d="M0,-6 L2,-6 A4,6 0 0 1 2,6 L0,6 Z" fill="#fff" stroke="#1e1e1e" stroke-width="1"/><path d="M-4.2,-3.5 L-2,-6 L2,-6 L4.2,-3.5 L4.2,3.5 L2,6 L-2,6 L-4.2,3.5 Z" fill="#fff" stroke="#1e1e1e" stroke-width="1"/><ellipse rx="2.5" ry="3.5" fill="#fff" stroke="#1e1e1e" stroke-width="1"/><ellipse rx="1.4" ry="2" fill="#999" stroke="#1e1e1e" stroke-width="0.6"/></g><g transform="translate(82,278.5) rotate(-30.5)"><rect x="-30" y="-4.5" width="60" height="9" rx="4.5" fill="none" stroke="#1e1e1e" stroke-width="1.3"/></g><g transform="translate(35.5,284) rotate(32.81)"><path d="M5,-1.5 L21.77,-1.5 L21.77,1.5 L5,1.5 Z" fill="#999" stroke="#1e1e1e" stroke-width="0.9"/><line x1="6" y1="-1.5" x2="6.6" y2="1.5" stroke="#1e1e1e" stroke-width="0.5"/><line x1="7.6" y1="-1.5" x2="8.2" y2="1.5" stroke="#1e1e1e" stroke-width="0.5"/><line x1="9.2" y1="-1.5" x2="9.8" y2="1.5" stroke="#1e1e1e" stroke-width="0.5"/><line x1="10.8" y1="-1.5" x2="11.4" y2="1.5" stroke="#1e1e1e" stroke-width="0.5"/><line x1="12.4" y1="-1.5" x2="13" y2="1.5" stroke="#1e1e1e" stroke-width="0.5"/><line x1="14" y1="-1.5" x2="14.6" y2="1.5" stroke="#1e1e1e" stroke-width="0.5"/><line x1="15.6" y1="-1.5" x2="16.2" y2="1.5" stroke="#1e1e1e" stroke-width="0.5"/><line x1="17.2" y1="-1.5" x2="17.8" y2="1.5" stroke="#1e1e1e" stroke-width="0.5"/><line x1="18.8" y1="-1.5" x2="19.4" y2="1.5" stroke="#1e1e1e" stroke-width="0.5"/><line x1="20.4" y1="-1.5" x2="21" y2="1.5" stroke="#1e1e1e" stroke-width="0.5"/><path d="M0,-3.1 L5,-3.1 A1.55,3.1 0 0 1 5,3.1 L0,3.1 A1.55,3.1 0 0 1 0,-3.1 Z" fill="#fff" stroke="#1e1e1e" stroke-width="0.9"/><ellipse rx="1.55" ry="3.1" fill="#fff" stroke="#1e1e1e" stroke-width="0.9"/></g><g transform="translate(35.5,302.5) rotate(33.25)"><path d="M5,-1.5 L21.88,-1.5 L21.88,1.5 L5,1.5 Z" fill="#999" stroke="#1e1e1e" stroke-width="0.9"/><line x1="6" y1="-1.5" x2="6.6" y2="1.5" stroke="#1e1e1e" stroke-width="0.5"/><line x1="7.6" y1="-1.5" x2="8.2" y2="1.5" stroke="#1e1e1e" stroke-width="0.5"/><line x1="9.2" y1="-1.5" x2="9.8" y2="1.5" stroke="#1e1e1e" stroke-width="0.5"/><line x1="10.8" y1="-1.5" x2="11.4" y2="1.5" stroke="#1e1e1e" stroke-width="0.5"/><line x1="12.4" y1="-1.5" x2="13" y2="1.5" stroke="#1e1e1e" stroke-width="0.5"/><line x1="14" y1="-1.5" x2="14.6" y2="1.5" stroke="#1e1e1e" stroke-width="0.5"/><line x1="15.6" y1="-1.5" x2="16.2" y2="1.5" stroke="#1e1e1e" stroke-width="0.5"/><line x1="17.2" y1="-1.5" x2="17.8" y2="1.5" stroke="#1e1e1e" stroke-width="0.5"/><line x1="18.8" y1="-1.5" x2="19.4" y2="1.5" stroke="#1e1e1e" stroke-width="0.5"/><line x1="20.4" y1="-1.5" x2="21" y2="1.5" stroke="#1e1e1e" stroke-width="0.5"/><path d="M0,-3.1 L5,-3.1 A1.55,3.1 0 0 1 5,3.1 L0,3.1 A1.55,3.1 0 0 1 0,-3.1 Z" fill="#fff" stroke="#1e1e1e" stroke-width="0.9"/><ellipse rx="1.55" ry="3.1" fill="#fff" stroke="#1e1e1e" stroke-width="0.9"/></g><path d="M62,302 L118,269.5 L124,265 L126,260 C129,256 133,252.5 137,252.5 C140,252.5 143,254 146,258 L149,263 L152,264 L161,263.8 L162.5,266.5 L154,269.5 L152,273 L154,278 L160,288 L157,292 L145,299.5 L141,294 L125,308.5 L115,306 L70,327 L63,324 Z" fill="#fff" stroke="#1e1e1e" stroke-width="1.0" stroke-linejoin="round" /><path d="M70,304 L121,275 M70,304 L70,327 M79,317 L115,298.5 M115,302 L125,309" fill="none" stroke="#1e1e1e" stroke-width="0.8" stroke-linejoin="round" /><path d="M124,265 L124,273 L132,279 L132.5,271 Z M132.5,271 L152,269.5 M132,279 C133,287 135,294 141,298 M138,279.5 C139,287 142,293 147,297 M152,273 C155,278 157,284 157,292" fill="none" stroke="#1e1e1e" stroke-width="0.8" stroke-linejoin="round" /><path d="M126,260 C127,266 130,270 132.5,271 M149,263 C150,266 151,268 152,269.5" fill="none" stroke="#1e1e1e" stroke-width="0.7" stroke-linejoin="round" /><ellipse cx="137.5" cy="259" rx="4.5" ry="4.5" transform="rotate(0 137.5 259)" fill="none" stroke="#1e1e1e" stroke-width="0.8"/><ellipse cx="137.5" cy="259.5" rx="2.2" ry="2.2" transform="rotate(0 137.5 259.5)" fill="none" stroke="#1e1e1e" stroke-width="0.7"/><ellipse cx="131" cy="263" rx="1.5" ry="2" transform="rotate(0 131 263)" fill="none" stroke="#1e1e1e" stroke-width="0.6"/><ellipse cx="144" cy="262" rx="1.6" ry="1.8" transform="rotate(0 144 262)" fill="none" stroke="#1e1e1e" stroke-width="0.6"/><ellipse cx="157" cy="265.5" rx="2.5" ry="1.3" transform="rotate(-10 157 265.5)" fill="none" stroke="#1e1e1e" stroke-width="0.6"/><g transform="translate(73.7,310.5) rotate(-25)"><ellipse rx="4.8" ry="8" fill="#ccc" stroke="#1e1e1e" stroke-width="0.9"/><ellipse rx="3" ry="5.5" fill="#e8e8e8" stroke="#444" stroke-width="0.6"/></g><g transform="translate(86,302) rotate(-28)"><path d="M-4,-3.5 L4,-3.5 A2,3.5 0 0 1 4,3.5 L-4,3.5 Z" fill="#fff" stroke="#1e1e1e" stroke-width="0.8"/><ellipse cx="-4" rx="2" ry="3.5" fill="#fff" stroke="#1e1e1e" stroke-width="0.8"/><ellipse cx="3" rx="1.5" ry="2.2" fill="#fff" stroke="#1e1e1e" stroke-width="0.8"/></g><g transform="translate(101,295) rotate(-28)"><path d="M-4,-3.5 L5,-3.5 A2,3.5 0 0 1 5,3.5 L-4,3.5 Z" fill="#fff" stroke="#1e1e1e" stroke-width="0.8"/><ellipse cx="-4" rx="2" ry="3.5" fill="#fff" stroke="#1e1e1e" stroke-width="0.8"/><ellipse cx="7" cy="0.5" rx="1.8" ry="2.5" fill="#fff" stroke="#1e1e1e" stroke-width="0.8"/></g><g transform="translate(119,284.5) rotate(-30)"><ellipse rx="4.5" ry="8" fill="#fff" stroke="#1e1e1e" stroke-width="0.8"/><ellipse rx="3.2" ry="6" fill="#aaa" stroke="#1e1e1e" stroke-width="0.6"/></g><path d="M107,287.5 L114,284.5 L120.5,288 L120.5,295.3 L113,298.5 L107,294.5 Z" fill="#fff" stroke="#1e1e1e" stroke-width="1.0" stroke-linejoin="round" /><path d="M107,287.5 L113.5,291 L120.5,288 M113.5,291 L113,298.5" fill="none" stroke="#1e1e1e" stroke-width="0.7" stroke-linejoin="round" /><path d="M115.8,335.8 L170,306.7 C175,305 180,308.5 181.7,313.3 L182.5,319.2 C182,321 181,322 179.5,323 L127.5,352.5 C121,354 117,351 116.7,348.3 L115,340 C115,338.3 115.3,337 115.8,335.8 Z" fill="#fff" stroke="#1e1e1e" stroke-width="1.0" stroke-linejoin="round" /><path d="M125.5,339 L177,312.5 C179.5,313 181.5,316 181.5,319.5 L128.5,349.5 C124.5,350.5 122,347.5 122.5,343.5 C123,341 124,339.8 125.5,339 Z" fill="#d2d2d2" stroke="#1e1e1e" stroke-width="0.8" stroke-linejoin="round" /><path d="M125.5,342.5 l1.5,5.5 M127.8,341.3 l1.5,5.5 M130.0,340.2 l1.5,5.5 M132.2,339.0 l1.5,5.5 M134.5,337.8 l1.5,5.5 M136.8,336.6 l1.5,5.5 M139.0,335.5 l1.5,5.5 M141.2,334.3 l1.5,5.5 M143.5,333.1 l1.5,5.5 M145.8,332.0 l1.5,5.5 M148.0,330.8 l1.5,5.5 M150.2,329.6 l1.5,5.5 M152.5,328.5 l1.5,5.5 M154.8,327.3 l1.5,5.5 M157.0,326.1 l1.5,5.5 M159.2,324.9 l1.5,5.5 M161.5,323.8 l1.5,5.5 M163.8,322.6 l1.5,5.5 M166.0,321.4 l1.5,5.5 M168.2,320.3 l1.5,5.5 M170.5,319.1 l1.5,5.5 M172.8,317.9 l1.5,5.5 M175.0,316.8 l1.5,5.5 M177.2,315.6 l1.5,5.5" stroke="#444" stroke-width="0.6"/><path d="M115.5,338.5 C118,337 122.5,337.5 125.5,339" fill="none" stroke="#1e1e1e" stroke-width="0.8" stroke-linejoin="round" /><g transform="translate(145,355.6) rotate(22)"><path d="M0,-7.3 L3,-7.3 A4.3,7.3 0 0 1 3,7.3 L0,7.3 Z" fill="#fff" stroke="#1e1e1e" stroke-width="1"/><ellipse rx="4.3" ry="7.3" fill="#fff" stroke="#1e1e1e" stroke-width="1"/><path d="M3,-5.5 L16,-5.5 L16,5.5 L3,5.5 Z" fill="#8a8a8a" stroke="#1e1e1e" stroke-width="0.9"/><line x1="4.0" y1="-5.5" x2="4.0" y2="5.5" stroke="#444" stroke-width="0.6"/><line x1="5.5" y1="-5.5" x2="5.5" y2="5.5" stroke="#444" stroke-width="0.6"/><line x1="7.0" y1="-5.5" x2="7.0" y2="5.5" stroke="#444" stroke-width="0.6"/><line x1="8.5" y1="-5.5" x2="8.5" y2="5.5" stroke="#444" stroke-width="0.6"/><line x1="10.0" y1="-5.5" x2="10.0" y2="5.5" stroke="#444" stroke-width="0.6"/><line x1="11.5" y1="-5.5" x2="11.5" y2="5.5" stroke="#444" stroke-width="0.6"/><line x1="13.0" y1="-5.5" x2="13.0" y2="5.5" stroke="#444" stroke-width="0.6"/><line x1="14.5" y1="-5.5" x2="14.5" y2="5.5" stroke="#444" stroke-width="0.6"/><path d="M16,-6.5 L19,-6.5 A3.5,6.5 0 0 1 19,6.5 L16,6.5 Z" fill="#fff" stroke="#1e1e1e" stroke-width="1"/><ellipse cx="16" rx="3.5" ry="6.5" fill="#fff" stroke="#1e1e1e" stroke-width="1"/><path d="M18,-3.2 L32,-3.2 A1.8,3.2 0 0 1 32,3.2 L18,3.2 Z" fill="#fff" stroke="#1e1e1e" stroke-width="0.9"/><ellipse cx="18" rx="1.8" ry="3.2" fill="#fff" stroke="#1e1e1e" stroke-width="0.9"/></g><path d="M198.75,331 L216.9,320 L224.4,324 L224.4,333 L220,331.5 L219.5,337 L222,338.5 L221.8,344 L216.25,345.5 L198.75,354 Z" fill="#fff" stroke="#1e1e1e" stroke-width="1.0" stroke-linejoin="round" /><path d="M216.9,320.5 L216.5,345.5" fill="none" stroke="#333" stroke-width="0.7"/><g transform="translate(190.5,329.5) rotate(27)"><path d="M0,-7.8 L9,-7.8 L9,7.8 L0,7.8 Z" fill="#8a8a8a" stroke="#1e1e1e" stroke-width="0.9"/><line x1="1.5" y1="-7.8" x2="1.5" y2="7.8" stroke="#333" stroke-width="0.6"/><line x1="2.8" y1="-7.8" x2="2.8" y2="7.8" stroke="#333" stroke-width="0.6"/><line x1="4.1" y1="-7.8" x2="4.1" y2="7.8" stroke="#333" stroke-width="0.6"/><line x1="5.4" y1="-7.8" x2="5.4" y2="7.8" stroke="#333" stroke-width="0.6"/><line x1="6.7" y1="-7.8" x2="6.7" y2="7.8" stroke="#333" stroke-width="0.6"/><line x1="8.0" y1="-7.8" x2="8.0" y2="7.8" stroke="#333" stroke-width="0.6"/><path d="M9,-7.8 A4,7.8 0 0 1 9,7.8" fill="#8a8a8a" stroke="#1e1e1e" stroke-width="0.9"/><ellipse rx="4.3" ry="8.3" fill="#fff" stroke="#1e1e1e" stroke-width="1"/><ellipse rx="2.8" ry="5.2" fill="none" stroke="#333" stroke-width="0.7"/></g><g transform="translate(206.9,339.4) rotate(27)"><ellipse rx="3.5" ry="6" fill="#fff" stroke="#1e1e1e" stroke-width="1"/><path d="M0,-3.2 L25,-3.2 A1.8,3.2 0 0 1 25,3.2 L0,3.2 Z" fill="#fff" stroke="#1e1e1e" stroke-width="0.9"/><ellipse rx="1.8" ry="3.2" fill="#fff" stroke="#1e1e1e" stroke-width="0.9"/><path d="M18,-3.2 L18,3.2 M14,-4 L20,-4" stroke="#1e1e1e" stroke-width="0.7"/></g><line x1="229" y1="332" x2="234.5" y2="335.3" stroke="#1e1e1e" stroke-width="3.8" stroke-linecap="round"/><line x1="229" y1="332" x2="234.5" y2="335.3" stroke="#fff" stroke-width="1.8" stroke-linecap="round"/><path d="M187.5,403 C188,400.5 190.5,399 192.5,398.75 L197.5,397.5 C199.5,397.3 201.5,398 202.5,399 C204,400.5 204.6,402 204.6,403.3 L204.6,411.7 C204.3,413.5 202.5,415.3 200,415.8 L194,417.5 C191.5,417.8 189,417.5 188.3,416.7 C187.6,415.5 187.5,414 187.5,412.5 Z" fill="#fff" stroke="#1e1e1e" stroke-width="0.9" stroke-linejoin="round" /><path d="M187.5,403 C190,404 193,404.5 195.5,404.5 L204.6,403.3 M195.5,404.5 L195,417.3 M198,397.8 C199.5,399.5 200,401.5 199.5,404" fill="none" stroke="#1e1e1e" stroke-width="0.7" stroke-linejoin="round" /><g transform="translate(200,409.3) rotate(-15)"><ellipse rx="4.1" ry="4.8" fill="#fff" stroke="#1e1e1e" stroke-width="1.1"/><ellipse cx="0.4" rx="2.5" ry="3" fill="#fff" stroke="#1e1e1e" stroke-width="0.9"/></g><path d="M180,377.5 L253.3,421.7" fill="none" stroke="#777" stroke-width="0.6"/><path d="M175,374 L180,377.5" fill="none" stroke="#777" stroke-width="0.6"/><path d="M335,392 L345,391 L352.5,386 C355.5,387.5 357.5,389.5 358.5,392.5 C360.5,396 361,400 360,404 C359,408 357,410 354,411 L347.5,413.75 L346,420 C345,423 343.5,425 342,426.5 L336,430.5 Z" fill="#fff" stroke="#1e1e1e" stroke-width="1.0" stroke-linejoin="round" /><path d="M336,392 C341,396 345,401 346,406 C346.5,411 345.5,415 343.75,418 C342,422 340,424.5 337.5,426.5" fill="none" stroke="#1e1e1e" stroke-width="0.8" stroke-linejoin="round" /><path d="M345,384 C347,383 350.5,383.5 352.5,386 L351,390 C349,391 346.5,390.5 345,389 Z" fill="#fff" stroke="#1e1e1e" stroke-width="0.9" stroke-linejoin="round" /><ellipse cx="343.7" cy="408.5" rx="0.7" ry="0.7" transform="rotate(0 343.7 408.5)" fill="#333" stroke="#1e1e1e" stroke-width="0.4"/><ellipse cx="343.2" cy="412.8" rx="0.7" ry="0.7" transform="rotate(0 343.2 412.8)" fill="#333" stroke="#1e1e1e" stroke-width="0.4"/><path d="M315.6,379.4 L317.5,377.5 L325,379.4 C325.5,377.5 326.2,375.5 326.9,375.6 L328,371.25 L331.25,372.5 L335,375 L340,382.5 L342.5,388 L345,391 L335,392 L335.6,433 L321.25,435 Z" fill="#fff" stroke="#1e1e1e" stroke-width="1.0" stroke-linejoin="round" /><path d="M317.5,383.75 L324,385 L335,392 M321.3,383.7 L328,434.4 M315.6,379.4 L321.3,383.7 M325,379.4 L323.75,385.6 M326.9,375.6 C327.5,378.5 328.5,380.5 330,382" fill="none" stroke="#1e1e1e" stroke-width="0.8" stroke-linejoin="round" /><path d="M265.75,389 C268,386.5 272,385.5 275.7,385.6 L288.5,386.2 C293,388 297,390 300.2,392 L315,396 C320,397.5 324,399 326,400 C328,401 329.4,402.5 329.4,405 L329.4,426 L321.25,435 L302,437 L302,400.2 L285,401.3 C281,399 276.5,396.5 273.3,394.3 Z" fill="#fff" stroke="#1e1e1e" stroke-width="1.0" stroke-linejoin="round" /><path d="M265.75,389 C268.5,391 270.5,392.5 273.3,394.3 M285,401.3 L299,398.4 L315,396 M302,400.2 L302,437 M305,412.5 L322.5,420 M305,417.5 L321.25,426 M315,396 C320,399 322.5,402 322.5,406 L322,434" fill="none" stroke="#1e1e1e" stroke-width="0.8" stroke-linejoin="round" /><path d="M276.8,389 L287,387.5 L299,393 L288,395.5 Z" fill="none" stroke="#1e1e1e" stroke-width="0.7" stroke-linejoin="round" /><path d="M331.25,415 C328,417 326,420 325.5,424 L324.5,427.5 L328,427.5 C328.5,423.5 329.5,420.5 331.25,419 Z" fill="#fff" stroke="#1e1e1e" stroke-width="0.8" stroke-linejoin="round" /><path d="M265.75,389 L273.3,394.3 L285,401.3 L302,400.2 L302,427 L301.3,437.5 L259.3,445.7 L253.5,443.3 L253,424 L258.2,424.7 Z" fill="#fff" stroke="#1e1e1e" stroke-width="1.0" stroke-linejoin="round" /><path d="M262.8,395.5 L259,423.5 M258.2,424.7 L262,427.5 L262.5,445 M262,427.5 L271,423" fill="none" stroke="#1e1e1e" stroke-width="0.8" stroke-linejoin="round" /><ellipse cx="273.3" cy="402.5" rx="1.1" ry="1.1" transform="rotate(0 273.3 402.5)" fill="none" stroke="#1e1e1e" stroke-width="0.7"/><ellipse cx="269.25" cy="409.5" rx="1.8" ry="2.6" transform="rotate(25 269.25 409.5)" fill="none" stroke="#1e1e1e" stroke-width="0.8"/><ellipse cx="265.2" cy="416" rx="1" ry="1" transform="rotate(0 265.2 416)" fill="none" stroke="#1e1e1e" stroke-width="0.7"/><ellipse cx="297.25" cy="416" rx="1.4" ry="1.7" transform="rotate(0 297.25 416)" fill="#555" stroke="#1e1e1e" stroke-width="0.6"/><path d="M275,402 C279,403 281,406 280,410 M270,413 L298,401" fill="none" stroke="#1e1e1e" stroke-width="0.6" stroke-linejoin="round" /><g transform="translate(272,434) rotate(-22)"><path d="M0,-10.5 L6,-10.5 A7,10.5 0 0 1 6,10.5 L0,10.5 Z" fill="#fff" stroke="#1e1e1e" stroke-width="1"/><ellipse rx="7.5" ry="10.8" fill="#fff" stroke="#1e1e1e" stroke-width="1.1"/><ellipse cx="0.5" rx="3.8" ry="5.6" fill="#fff" stroke="#1e1e1e" stroke-width="1"/><ellipse cx="0.8" rx="2.6" ry="3.9" fill="none" stroke="#555" stroke-width="0.6"/></g><ellipse cx="280.5" cy="424" rx="1.5" ry="2" transform="rotate(20 280.5 424)" fill="#666" stroke="#1e1e1e" stroke-width="0.6"/><path d="M258.5,411 L300,430" fill="none" stroke="#444" stroke-width="0.6"/><path d="M286,415 L350,449" fill="none" stroke="#555" stroke-width="0.5"/><path d="M285.8,488 L298.8,468.5 C297.8,461 299.5,452 305.5,447.3 C310.5,444 316.5,443.5 320.5,445.2 L338,439.3 C340.5,438.6 342,440.5 341.3,442.5 L340,445 L326.8,452.5 C327.8,459 325.5,467 318.5,470.3 C315.5,471.5 312,471.5 308.5,470.3 L295,490.5 C292.5,494 286.5,493 285.8,488 Z" fill="#fff" stroke="#1e1e1e" stroke-width="1.0" stroke-linejoin="round" /><ellipse cx="313" cy="457.6" rx="10" ry="11.6" transform="rotate(30 313 457.6)" fill="#fff" stroke="#1e1e1e" stroke-width="1.0"/><ellipse cx="313.3" cy="457.8" rx="8.6" ry="10.2" transform="rotate(30 313.3 457.8)" fill="none" stroke="#1e1e1e" stroke-width="0.6"/><path d="M304,462 C305,466 308,468.5 311,469 M298.8,468.5 L288,486" fill="none" stroke="#1e1e1e" stroke-width="0.6" stroke-linejoin="round" /><ellipse cx="339.3" cy="441.6" rx="1.6" ry="1.3" transform="rotate(0 339.3 441.6)" fill="none" stroke="#1e1e1e" stroke-width="0.8"/><ellipse cx="290" cy="490.3" rx="2.8" ry="2.4" transform="rotate(0 290 490.3)" fill="none" stroke="#1e1e1e" stroke-width="0.9"/><g transform="translate(365,457.5) rotate(-153.43)"><path d="M3,-1.4 L16.77,-1.4 L16.77,1.4 L3,1.4 Z" fill="#888" stroke="#1e1e1e" stroke-width="0.9"/><line x1="4" y1="-1.4" x2="4.6" y2="1.4" stroke="#1e1e1e" stroke-width="0.5"/><line x1="5.6" y1="-1.4" x2="6.2" y2="1.4" stroke="#1e1e1e" stroke-width="0.5"/><line x1="7.2" y1="-1.4" x2="7.8" y2="1.4" stroke="#1e1e1e" stroke-width="0.5"/><line x1="8.8" y1="-1.4" x2="9.4" y2="1.4" stroke="#1e1e1e" stroke-width="0.5"/><line x1="10.4" y1="-1.4" x2="11" y2="1.4" stroke="#1e1e1e" stroke-width="0.5"/><line x1="12" y1="-1.4" x2="12.6" y2="1.4" stroke="#1e1e1e" stroke-width="0.5"/><line x1="13.6" y1="-1.4" x2="14.2" y2="1.4" stroke="#1e1e1e" stroke-width="0.5"/><line x1="15.2" y1="-1.4" x2="15.8" y2="1.4" stroke="#1e1e1e" stroke-width="0.5"/><path d="M0,-2.4 L3,-2.4 A1.2,2.4 0 0 1 3,2.4 L0,2.4 A1.2,2.4 0 0 1 0,-2.4 Z" fill="#fff" stroke="#1e1e1e" stroke-width="0.9"/><ellipse rx="1.2" ry="2.4" fill="#fff" stroke="#1e1e1e" stroke-width="0.9"/></g><g transform="translate(349.5,466) rotate(-148.51)"><path d="M3,-1.4 L16.65,-1.4 L16.65,1.4 L3,1.4 Z" fill="#888" stroke="#1e1e1e" stroke-width="0.9"/><line x1="4" y1="-1.4" x2="4.6" y2="1.4" stroke="#1e1e1e" stroke-width="0.5"/><line x1="5.6" y1="-1.4" x2="6.2" y2="1.4" stroke="#1e1e1e" stroke-width="0.5"/><line x1="7.2" y1="-1.4" x2="7.8" y2="1.4" stroke="#1e1e1e" stroke-width="0.5"/><line x1="8.8" y1="-1.4" x2="9.4" y2="1.4" stroke="#1e1e1e" stroke-width="0.5"/><line x1="10.4" y1="-1.4" x2="11" y2="1.4" stroke="#1e1e1e" stroke-width="0.5"/><line x1="12" y1="-1.4" x2="12.6" y2="1.4" stroke="#1e1e1e" stroke-width="0.5"/><line x1="13.6" y1="-1.4" x2="14.2" y2="1.4" stroke="#1e1e1e" stroke-width="0.5"/><line x1="15.2" y1="-1.4" x2="15.8" y2="1.4" stroke="#1e1e1e" stroke-width="0.5"/><path d="M0,-2.4 L3,-2.4 A1.2,2.4 0 0 1 3,2.4 L0,2.4 A1.2,2.4 0 0 1 0,-2.4 Z" fill="#fff" stroke="#1e1e1e" stroke-width="0.9"/><ellipse rx="1.2" ry="2.4" fill="#fff" stroke="#1e1e1e" stroke-width="0.9"/></g><g transform="translate(272.3,479.5) rotate(30.3)"><path d="M3,-1.1 L8.92,-1.1 L8.92,1.1 L3,1.1 Z" fill="#fff" stroke="#1e1e1e" stroke-width="0.9"/><line x1="4" y1="-1.1" x2="4.6" y2="1.1" stroke="#1e1e1e" stroke-width="0.5"/><line x1="5.6" y1="-1.1" x2="6.2" y2="1.1" stroke="#1e1e1e" stroke-width="0.5"/><line x1="7.2" y1="-1.1" x2="7.8" y2="1.1" stroke="#1e1e1e" stroke-width="0.5"/><path d="M0,-2.5 L3,-2.5 A1.25,2.5 0 0 1 3,2.5 L0,2.5 A1.25,2.5 0 0 1 0,-2.5 Z" fill="#fff" stroke="#1e1e1e" stroke-width="0.9"/><ellipse rx="1.25" ry="2.5" fill="#fff" stroke="#1e1e1e" stroke-width="0.9"/></g><g transform="translate(325.5,511.6) rotate(-153)"><path d="M0,-4 L28,-4 A2,4 0 0 1 28,4 L0,4 Z" fill="#fff" stroke="#1e1e1e" stroke-width="1"/><ellipse rx="2" ry="4" fill="#fff" stroke="#1e1e1e" stroke-width="1"/></g><path d="M280,484.5 L286,488" fill="none" stroke="#666" stroke-width="0.5"/><path d="M223.25,482.1 C225,481.3 226.8,483.3 225.8,485.8 L224.9,493.6 C222,496.2 219,499 216.5,500.3 C214.5,500.8 212.8,499.2 213.4,497.3 L215,489.2 Z" fill="#fff" stroke="#1e1e1e" stroke-width="1.0" stroke-linejoin="round" /><path d="M216.8,490.2 L222.8,485.5 L223.2,492.6 L217.4,497.2 Z" fill="#eee" stroke="#1e1e1e" stroke-width="0.7" stroke-linejoin="round" /><path d="M225,484.8 L233,490.5" fill="none" stroke="#555" stroke-width="0.6"/><path d="M217.3,499 L227,505.3" fill="none" stroke="#555" stroke-width="0.6"/><line x1="232.3" y1="490.2" x2="237.3" y2="493.6" stroke="#1e1e1e" stroke-width="2.6" stroke-linecap="round"/><line x1="232.3" y1="490.2" x2="237.3" y2="493.6" stroke="#777" stroke-width="0.6" stroke-linecap="round"/><line x1="226.8" y1="505.2" x2="232" y2="508.6" stroke="#1e1e1e" stroke-width="2.6" stroke-linecap="round"/><line x1="226.8" y1="505.2" x2="232" y2="508.6" stroke="#777" stroke-width="0.6" stroke-linecap="round"/></svg></body></html>
